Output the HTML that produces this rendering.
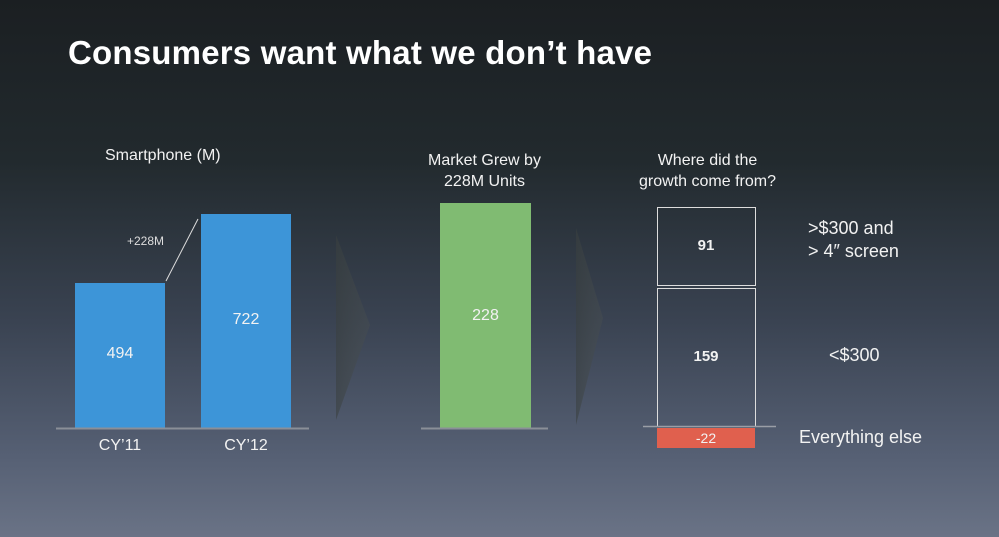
<!DOCTYPE html>
<html><head><style>
body{margin:0;width:999px;height:537px;overflow:hidden;background:linear-gradient(180deg,#1b1f22 0%,#222a2e 30%,#3a4352 60%,#566074 85%,#6a7386 100%);font-family:"Liberation Sans",sans-serif;color:#f2f2f2;position:relative}
.a{position:absolute}
.t{white-space:nowrap}
</style></head><body>
<div class="a t" style="left:68px;top:34px;font-size:33px;font-weight:bold;color:#fff;letter-spacing:0.2px">Consumers want what we don’t have</div>
<div class="a t" style="left:105px;top:147px;font-size:16px">Smartphone (M)</div>
<div class="a t" style="left:417px;top:150px;font-size:16px;text-align:center;width:135px;line-height:21px">Market Grew by<br>228M Units</div>
<div class="a t" style="left:620px;top:150px;font-size:16px;text-align:center;width:175px;line-height:21px">Where did the<br>growth come from?</div>
<svg class="a" style="left:0;top:0" width="999" height="537">
<defs><linearGradient id="g1" x1="0" x2="1"><stop offset="0" stop-color="#3a4040" stop-opacity=".6"/><stop offset="1" stop-color="#4a5050" stop-opacity=".4"/></linearGradient></defs>
<polygon points="336,235 370,325 336,420" fill="url(#g1)"/>
<polygon points="576,228 603,318 576,425" fill="url(#g1)"/>
<rect x="75" y="283" width="90" height="145" fill="#3d95d8"/>
<rect x="201" y="214" width="90" height="214" fill="#3d95d8"/>
<line x1="56" y1="428.5" x2="309" y2="428.5" stroke="#8a8f98" stroke-width="2"/>
<line x1="166" y1="281" x2="198" y2="219" stroke="#ddd" stroke-width="1"/>
<rect x="440" y="203" width="91" height="225" fill="#80bb72"/>
<line x1="421" y1="428.5" x2="548" y2="428.5" stroke="#8a8f98" stroke-width="2"/>
<rect x="657.5" y="207.5" width="98" height="78" fill="none" stroke="#ddd" stroke-width="1"/>
<rect x="657.5" y="288.5" width="98" height="138" fill="none" stroke="#ddd" stroke-width="1"/>
<rect x="657" y="428" width="98" height="20" fill="#e0604e"/>
<line x1="643" y1="426.5" x2="776" y2="426.5" stroke="#9a9ea6" stroke-width="1.5"/>
</svg>
<div class="a t" style="left:127px;top:234px;font-size:12px;color:#ddd">+228M</div>
<div class="a t" style="left:75px;top:345px;width:90px;text-align:center;font-size:16px">494</div>
<div class="a t" style="left:201px;top:311px;width:90px;text-align:center;font-size:16px">722</div>
<div class="a t" style="left:440px;top:307px;width:91px;text-align:center;font-size:16px">228</div>
<div class="a t" style="left:75px;top:437px;width:90px;text-align:center;font-size:16px">CY’11</div>
<div class="a t" style="left:201px;top:437px;width:90px;text-align:center;font-size:16px">CY’12</div>
<div class="a t" style="left:657px;top:237px;width:98px;text-align:center;font-size:15px;font-weight:bold">91</div>
<div class="a t" style="left:657px;top:348px;width:98px;text-align:center;font-size:15px;font-weight:bold">159</div>
<div class="a t" style="left:657px;top:430px;width:98px;text-align:center;font-size:14px">-22</div>
<div class="a t" style="left:808px;top:217px;font-size:18px;line-height:23px">&gt;$300 and<br>&gt; 4″ screen</div>
<div class="a t" style="left:829px;top:345px;font-size:18px">&lt;$300</div>
<div class="a t" style="left:799px;top:427px;font-size:18px">Everything else</div>
</body></html>
